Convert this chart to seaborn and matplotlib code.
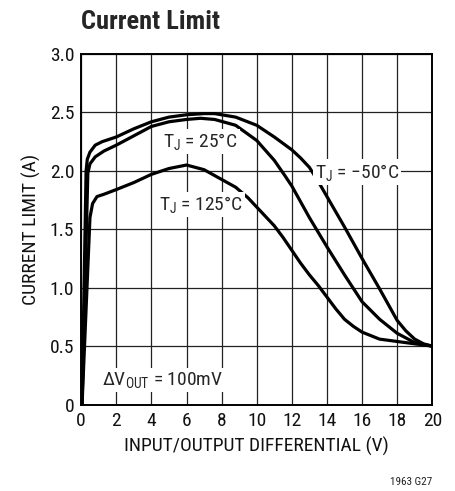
import numpy as np
import pandas as pd
import matplotlib
matplotlib.use('Agg')
import matplotlib.pyplot as plt
import seaborn as sns

# input/output differential (V) and current limit (A)
vdiff_m50 = [0.05, 0.28, 0.35, 0.5, 0.8, 1.2, 2.0, 3.0, 4.0, 5.0, 6.0, 7.0, 7.6, 8.8,
             10.0, 11.0, 12.0, 12.5, 13.0, 13.5, 14.0, 15.0, 16.0, 17.0, 18.0, 18.5,
             19.0, 19.5, 20.0]
ilim_m50 = [0.0, 2.00, 2.10, 2.16, 2.22, 2.25, 2.29, 2.36, 2.42, 2.46, 2.48, 2.49, 2.49, 2.46,
            2.39, 2.29, 2.18, 2.11, 2.03, 1.91, 1.78, 1.52, 1.25, 0.99, 0.72, 0.63,
            0.56, 0.52, 0.50]

vdiff_25 = [0.05, 0.38, 0.5, 0.8, 1.3, 2.0, 3.0, 4.0, 5.0, 6.0, 6.8, 7.6, 8.8, 10.0,
            11.0, 11.6, 12.0, 13.0, 14.0, 15.0, 16.0, 17.0, 18.0, 19.0, 20.0]
ilim_25 = [0.0, 1.98, 2.06, 2.12, 2.17, 2.22, 2.30, 2.38, 2.42, 2.44, 2.45, 2.44, 2.39, 2.26,
           2.09, 1.96, 1.87, 1.60, 1.35, 1.11, 0.88, 0.73, 0.61, 0.53, 0.50]

vdiff_125 = [0.05, 0.5, 0.65, 0.9, 1.3, 2.0, 3.0, 4.0, 5.0, 6.0, 7.0, 7.6, 8.8, 9.5,
             10.0, 10.5, 11.0, 11.5, 12.0, 12.5, 13.0, 13.5, 14.0, 14.5, 15.0, 15.5,
             16.0, 17.0, 18.0, 19.0, 20.0]
ilim_125 = [0.0, 1.60, 1.72, 1.78, 1.80, 1.84, 1.90, 1.97, 2.02, 2.05, 2.01, 1.96, 1.86, 1.77,
            1.69, 1.61, 1.53, 1.43, 1.32, 1.21, 1.11, 1.02, 0.92, 0.82, 0.73, 0.67,
            0.62, 0.56, 0.54, 0.52, 0.50]

x_ticks = [0, 2, 4, 6, 8, 10, 12, 14, 16, 18, 20]
y_ticks = [0, 0.5, 1.0, 1.5, 2.0, 2.5, 3.0]
y_tick_labels = ['0', '0.5', '1.0', '1.5', '2.0', '2.5', '3.0']

df = pd.concat([
    pd.DataFrame({'vdiff': vdiff_m50, 'ilim': ilim_m50, 'tj': '-50'}),
    pd.DataFrame({'vdiff': vdiff_25, 'ilim': ilim_25, 'tj': '25'}),
    pd.DataFrame({'vdiff': vdiff_125, 'ilim': ilim_125, 'tj': '125'}),
])

sns.set_style('white')
# datasheet face is a condensed sans
plt.rcParams['font.family'] = ['Roboto Condensed', 'DejaVu Sans']
plt.rcParams['mathtext.default'] = 'regular'

fig = plt.figure(figsize=(4.56, 4.91), dpi=100)
ax = fig.add_axes([0.178, 0.176, 0.770, 0.714])

sns.lineplot(data=df, x='vdiff', y='ilim', hue='tj', units='tj', estimator=None,
             palette=['black', 'black', 'black'], linewidth=2.3, legend=False,
             sort=False, ax=ax, zorder=3)

ax.set_xlim(0, 20)
ax.set_ylim(0, 3.0)
ax.set_xticks(x_ticks)
ax.set_yticks(y_ticks)
ax.set_yticklabels(y_tick_labels)
ax.tick_params(length=0, labelsize=14, colors='#111111', pad=5)
ax.grid(True, color='#222222', linewidth=0.9)
for s in ax.spines.values():
    s.set_color('black')
    s.set_linewidth(1.4)

ax.set_xlabel('INPUT/OUTPUT DIFFERENTIAL (V)', fontsize=14, color='#111111', labelpad=5)
ax.set_ylabel('CURRENT LIMIT (A)', fontsize=14, color='#111111', labelpad=6)

box = dict(facecolor='white', edgecolor='none', pad=1.5)
ax.text(6.8, 2.25, 'T$_J$ = 25°C', fontsize=14, ha='center', va='center', bbox=box, zorder=4)
ax.text(6.8, 1.71, 'T$_J$ = 125°C', fontsize=14, ha='center', va='center', bbox=box, zorder=4)
ax.text(15.7, 1.99, 'T$_J$ = −50°C', fontsize=14, ha='center', va='center', bbox=box, zorder=4)
ax.text(1.2, 0.21, 'ΔV$_{OUT}$ = 100mV', fontsize=14, ha='left', va='center', bbox=box, zorder=4)

fig.text(0.178, 0.955, 'Current Limit', fontsize=19, fontweight='bold', ha='left', va='center')
fig.text(0.948, 0.018, '1963 G27', fontsize=8, ha='right', va='center', color='#222222')

fig.savefig('out.png', dpi=100)
plt.close(fig)
